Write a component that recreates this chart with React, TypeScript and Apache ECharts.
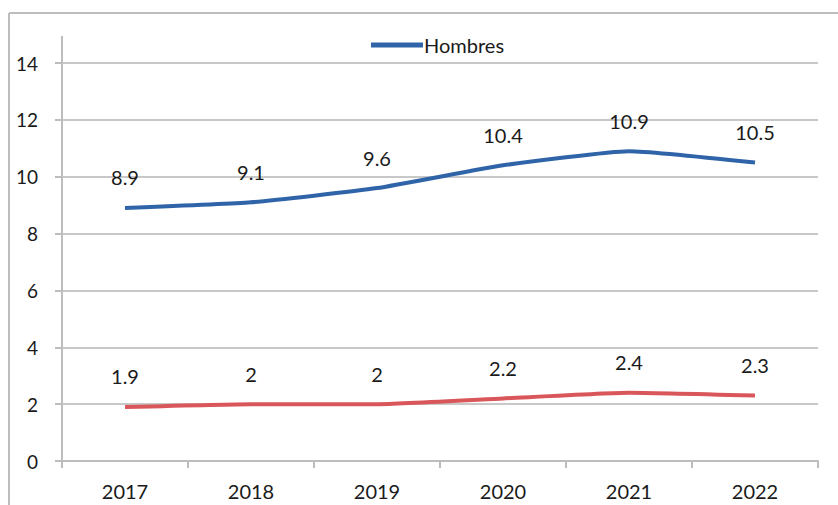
import React, { useEffect, useRef } from "react";
import * as echarts from "echarts";

const years = ["2017", "2018", "2019", "2020", "2021", "2022"];
const hombres = [8.9, 9.1, 9.6, 10.4, 10.9, 10.5];
const mujeres = [1.9, 2, 2, 2.2, 2.4, 2.3];
const legendNames = ["Hombres"];

const FONT = "Lato";
const BLUE = "#2f64a8";
const RED = "#d9575b";

export default function App() {
  const ref = useRef<HTMLDivElement>(null);
  useEffect(() => {
    const chart = echarts.init(ref.current!, null, { renderer: "svg" });
    const labelStyle = {
      show: true,
      position: "top" as const,
      distance: 20,
      fontFamily: FONT,
      fontSize: 20,
      color: "#1a1a1a",
    };
    chart.setOption({
      animation: false,
      backgroundColor: "#fff",
      textStyle: { fontFamily: FONT },
      legend: {
        data: legendNames.map((n) => ({ name: n, itemStyle: { color: BLUE, opacity: 1 } })),
        left: 366,
        top: 30,
        itemWidth: 52,
        itemHeight: 5,
        itemGap: 6,
        icon: "rect",
        textStyle: { fontFamily: FONT, fontSize: 20, color: "#1a1a1a", padding: [0, 0, 0, -4] },
      },
      grid: { left: 62, right: 20, top: 63, bottom: 44, containLabel: false },
      xAxis: {
        type: "category",
        data: years,
        boundaryGap: true,
        axisLine: { lineStyle: { color: "#bdbdbd", width: 2 } },
        axisTick: { show: true, length: 7, lineStyle: { color: "#bdbdbd", width: 2 } },
        axisLabel: { fontFamily: FONT, fontSize: 20, color: "#1a1a1a", margin: 20 },
        splitLine: { show: false },
      },
      yAxis: {
        type: "value",
        min: 0,
        max: 14,
        interval: 2,
        axisLine: { show: true, lineStyle: { color: "#bdbdbd", width: 2 } },
        axisTick: { show: true, length: 7, lineStyle: { color: "#bdbdbd", width: 2 } },
        axisLabel: { fontFamily: FONT, fontSize: 19, color: "#1a1a1a", margin: 24 },
        splitLine: { show: true, lineStyle: { color: "#c8c8c8", width: 2 } },
      },
      graphic: [
        { type: "line", shape: { x1: 9, y1: 13, x2: 838, y2: 13 }, style: { stroke: "#bdbdbd", lineWidth: 2 } },
        { type: "line", shape: { x1: 9, y1: 13, x2: 9, y2: 505 }, style: { stroke: "#bdbdbd", lineWidth: 2 } },
        { type: "line", shape: { x1: 62, y1: 36, x2: 62, y2: 63 }, style: { stroke: "#bdbdbd", lineWidth: 2 } },
      ],
      series: [
        {
          name: "Hombres",
          type: "line",
          data: hombres,
          smooth: 0.15,
          symbol: "circle",
          symbolSize: 1,
          showSymbol: true,
          itemStyle: { color: "rgba(0,0,0,0)" },
          lineStyle: { color: BLUE, width: 4 },
          label: labelStyle,
        },
        {
          name: "Mujeres",
          type: "line",
          data: mujeres,
          smooth: 0.15,
          symbol: "circle",
          symbolSize: 1,
          showSymbol: true,
          itemStyle: { color: "rgba(0,0,0,0)" },
          lineStyle: { color: RED, width: 4 },
          label: labelStyle,
        },
      ],
    });
    return () => chart.dispose();
  }, []);
  return <div ref={ref} style={{ width: 838, height: 505, position: "absolute", left: 0, top: 0 }} />;
}
